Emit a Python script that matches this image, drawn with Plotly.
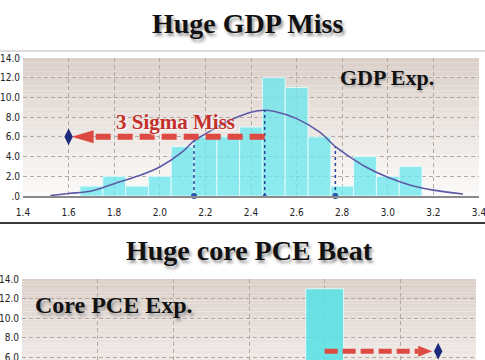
import plotly.graph_objects as go

# ---------------- data ----------------
gdp_bins = [1.7, 1.8, 1.9, 2.0, 2.1, 2.2, 2.3, 2.4, 2.5, 2.6, 2.7, 2.8, 2.9, 3.0, 3.1]
gdp_counts = [1, 2, 1, 2, 5, 6, 6, 7, 12, 11, 6, 1, 4, 2, 3]

curve_x = [1.52, 1.6, 1.7, 1.8, 1.9, 2.0, 2.1, 2.15, 2.2, 2.3, 2.4, 2.46, 2.5, 2.6, 2.7, 2.77, 2.8, 2.9, 3.0, 3.1, 3.2, 3.33]
curve_y = [0.05, 0.25, 0.5, 1.25, 2.0, 2.95, 4.5, 5.6, 6.3, 7.6, 8.5, 8.7, 8.6, 7.85, 6.5, 5.0, 4.5, 3.0, 1.9, 1.1, 0.6, 0.2]

sigma_x = [2.15, 2.46, 2.77]
sigma_top = [5.6, 8.7, 5.0]
sigma_symbols = ["circle", "triangle-up", "circle"]

gdp_expected = 2.46
gdp_actual = 1.6
gdp_marker_y = 6.0

gdp_xticks = [1.4, 1.6, 1.8, 2.0, 2.2, 2.4, 2.6, 2.8, 3.0, 3.2, 3.4]
gdp_xlabels = ["1.4", "1.6", "1.8", "2.0", "2.2", "2.4", "2.6", "2.8", "3.0", "3.2", "3.4"]
count_ticks = [0, 2, 4, 6, 8, 10, 12, 14]
count_labels = [".0", "2.0", "4.0", "6.0", "8.0", "10.0", "12.0", "14.0"]

pce_bins = [1.3]
pce_counts = [13]
pce_expected = 1.3
pce_actual = 1.45
pce_marker_y = 6.6
pce_xticks = [0.9, 1.0, 1.1, 1.2, 1.3, 1.4, 1.5]

# ---------------- styling ----------------
W, H = 485, 360
TOP = dict(x0=23, x1=479, y0=58, y1=196)
BOT = dict(x0=22, x1=476, y0=279, y1=360)
grid_col = "#b4aaa5"
bar_col = "rgba(108,231,237,0.78)"
red = "#dd4a42"
navy = "#1b2a7a"
tickfont = dict(family="Liberation Sans Narrow, Arial Narrow, DejaVu Sans Condensed, Liberation Sans, sans-serif",
                size=10, color="#222")
serif = "Liberation Serif, DejaVu Serif, serif"

fig = go.Figure()

# histogram bars
fig.add_trace(go.Bar(x=gdp_bins, y=gdp_counts, width=0.1, marker=dict(color=bar_col,
              line=dict(color="rgba(230,252,252,0.9)", width=1)), xaxis="x", yaxis="y"))

# normal curve
fig.add_trace(go.Scatter(x=curve_x, y=curve_y, mode="lines", line=dict(color="#5b5aa6", width=1.6, shape="spline"),
                         xaxis="x", yaxis="y"))

# sigma lines
for sx, st, sym in zip(sigma_x, sigma_top, sigma_symbols):
    fig.add_trace(go.Scatter(x=[sx, sx], y=[0, st], mode="lines", line=dict(color="#24449a", width=1.5, dash="dot"),
                             xaxis="x", yaxis="y"))
    fig.add_trace(go.Scatter(x=[sx], y=[0], mode="markers", marker=dict(symbol=sym, size=6, color="#2a56b0"),
                             xaxis="x", yaxis="y", cliponaxis=False))

# top arrow (pointing left)
t_pxx, t_pxy = (TOP["x1"] - TOP["x0"]) / 2.0, (TOP["y1"] - TOP["y0"]) / 14.0
tip = gdp_actual + 3 / t_pxx
base = tip + 22 / t_pxx
hh = 6.5 / t_pxy
fig.add_trace(go.Scatter(x=[gdp_expected, base], y=[gdp_marker_y, gdp_marker_y], mode="lines",
                         line=dict(color=red, width=6, dash="15px,7px"), xaxis="x", yaxis="y"))
fig.add_trace(go.Scatter(x=[tip, base, base, tip], y=[gdp_marker_y, gdp_marker_y + hh, gdp_marker_y - hh, gdp_marker_y],
                         mode="lines", fill="toself", fillcolor=red, line=dict(color=red, width=0), xaxis="x", yaxis="y"))
fig.add_trace(go.Scatter(x=[gdp_actual], y=[gdp_marker_y], mode="markers",
                         marker=dict(symbol="diamond-tall", size=12, color=navy), xaxis="x", yaxis="y"))

# bottom chart
fig.add_trace(go.Bar(x=pce_bins, y=pce_counts, width=0.05, marker=dict(color="rgba(92,226,230,0.9)",
              line=dict(color="rgba(230,252,252,0.9)", width=1)), xaxis="x2", yaxis="y2"))
b_pxx, b_pxy = (BOT["x1"] - BOT["x0"]) / 0.6, (BOT["y1"] - BOT["y0"]) / 8.3
btip = pce_actual - 6 / b_pxx
bbase = btip - 14 / b_pxx
bhh = 5.5 / b_pxy
fig.add_trace(go.Scatter(x=[pce_expected, bbase], y=[pce_marker_y, pce_marker_y], mode="lines",
                         line=dict(color=red, width=5, dash="13px,5px"), xaxis="x2", yaxis="y2"))
fig.add_trace(go.Scatter(x=[btip, bbase, bbase, btip], y=[pce_marker_y, pce_marker_y + bhh, pce_marker_y - bhh, pce_marker_y],
                         mode="lines", fill="toself", fillcolor=red, line=dict(color=red, width=0), xaxis="x2", yaxis="y2"))
fig.add_trace(go.Scatter(x=[pce_actual], y=[pce_marker_y], mode="markers",
                         marker=dict(symbol="diamond-tall", size=12, color=navy), xaxis="x2", yaxis="y2"))

# gradient backgrounds
def lerp(c1, c2, t):
    return "rgb(%d,%d,%d)" % tuple(round(a + (b - a) * t) for a, b in zip(c1, c2))

shapes = []
top_c, bot_c = (220, 208, 201), (252, 251, 250)
N = 30
for xr, yr, frac_top, frac_bot in [("x domain", "y domain", 0.0, 1.0), ("x2 domain", "y2 domain", 0.0, 0.6)]:
    for i in range(N):
        t0 = frac_top + (frac_bot - frac_top) * i / N
        shapes.append(dict(type="rect", xref=xr, yref=yr, x0=0, x1=1, y0=1 - i / N, y1=1 - (i + 1) / N,
                           fillcolor=lerp(top_c, bot_c, t0), line=dict(width=0), layer="below"))

shapes.append(dict(type="line", xref="paper", yref="paper", x0=0, x1=1, y0=1 - 51 / H, y1=1 - 51 / H,
                   line=dict(color="#d2d2d2", width=1.5)))
shapes.append(dict(type="line", xref="paper", yref="paper", x0=0, x1=1, y0=1 - 223 / H, y1=1 - 223 / H,
                   line=dict(color="#3a3a3a", width=2)))

annotations = [
    dict(text="<b>Huge GDP Miss</b>", xref="paper", yref="paper", x=248 / W, y=1 - 24 / H, showarrow=False,
         font=dict(family=serif, size=28, color="#111", shadow="2px 3px 3px #999"), xanchor="center", yanchor="middle"),
    dict(text="<b>Huge core PCE Beat</b>", xref="paper", yref="paper", x=250 / W, y=1 - 250 / H, showarrow=False,
         font=dict(family=serif, size=28, color="#111", shadow="2px 3px 3px #999"), xanchor="center", yanchor="middle"),
    dict(text="<b>GDP Exp.</b>", xref="paper", yref="paper", x=387 / W, y=1 - 77 / H, showarrow=False,
         font=dict(family=serif, size=22, color="#111", shadow="1px 2px 2px #aaa"), xanchor="center", yanchor="middle"),
    dict(text="<b>3 Sigma Miss</b>", xref="paper", yref="paper", x=175 / W, y=1 - 122 / H, showarrow=False,
         font=dict(family=serif, size=21, color="#c4302b", shadow="1px 1px 2px #fff"), xanchor="center", yanchor="middle"),
    dict(text="<b>Core PCE Exp.</b>", xref="paper", yref="paper", x=33 / W, y=1 - 305 / H, showarrow=False,
         font=dict(family=serif, size=24, color="#111", shadow="2px 3px 3px #999"), xanchor="left", yanchor="middle"),
]

common_grid = dict(showgrid=True, gridcolor=grid_col, griddash="4px,3px", gridwidth=1, zeroline=False,
                   tickfont=tickfont, automargin=False, fixedrange=True, ticks="", ticklabeloverflow="allow")

fig.update_layout(
    width=W, height=H, margin=dict(l=0, r=0, t=0, b=0), paper_bgcolor="white", plot_bgcolor="rgba(0,0,0,0)",
    showlegend=False, shapes=shapes, annotations=annotations,
    xaxis=dict(domain=[TOP["x0"] / W, TOP["x1"] / W], range=[1.4, 3.4], tickvals=gdp_xticks, ticktext=gdp_xlabels,
               showline=True, linecolor="#8a8a8a", linewidth=1.5, anchor="y", ticklabelstandoff=6, **common_grid),
    yaxis=dict(domain=[1 - TOP["y1"] / H, 1 - TOP["y0"] / H], range=[0, 14], tickvals=count_ticks, ticktext=count_labels,
               showline=False, anchor="x", ticklabelstandoff=2, **common_grid),
    xaxis2=dict(domain=[BOT["x0"] / W, BOT["x1"] / W], range=[0.9, 1.5], tickvals=pce_xticks, showticklabels=False,
                showline=False, anchor="y2", **common_grid),
    yaxis2=dict(domain=[0, 1 - BOT["y0"] / H], range=[5.7, 14], tickvals=count_ticks[3:], ticktext=count_labels[3:],
                showline=False, anchor="x2", ticklabelstandoff=2, **common_grid),
)

fig.write_html("out.html", config={"displayModeBar": False, "staticPlot": True},
               post_script="document.body.style.margin='0';document.body.style.overflow='hidden';")
